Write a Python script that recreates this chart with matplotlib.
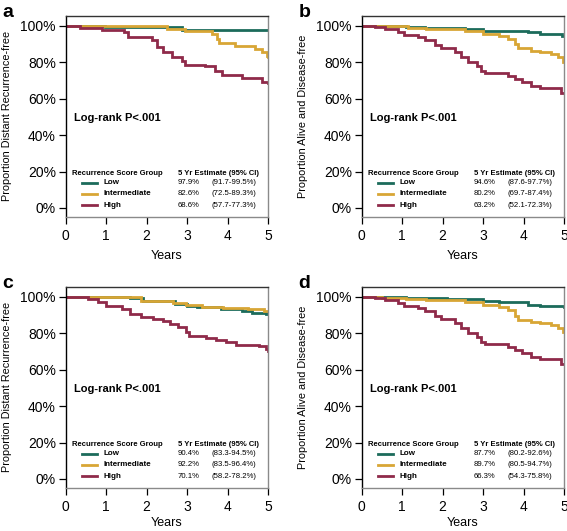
import matplotlib
matplotlib.use("Agg")
import matplotlib.pyplot as plt
from matplotlib.ticker import FuncFormatter

plt.rcParams["font.family"] = ["Liberation Sans", "DejaVu Sans"]

# Kaplan-Meier style step data (years, percent)
A_LOW_T = [0, 0.97, 2.88, 5]
A_LOW_S = [100, 99.3, 97.9, 97.9]
A_INT_T = [0, 1.5, 2.5, 2.96, 3.62, 3.73, 3.8, 4.18, 4.68, 4.85, 4.97, 5]
A_INT_S = [100, 99.6, 98.3, 96.9, 95.6, 92.8, 90.6, 88.8, 87.3, 85.5, 83.6, 82.6]
A_HIGH_T = [0, 0.35, 0.9, 1.43, 1.55, 2.13, 2.25, 2.4, 2.62, 2.88, 2.95, 3.44, 3.69, 3.86, 4.36, 4.85, 5]
A_HIGH_S = [100, 99, 97.4, 96.5, 93.8, 91.9, 88.5, 85.5, 82.7, 80.8, 78.6, 77.7, 75.3, 72.9, 71.1, 69.2, 68.6]

B_LOW_T = [0, 1.1, 1.56, 2.55, 3.0, 4.1, 4.4, 4.95, 5]
B_LOW_S = [100, 99.3, 99.0, 98.3, 97.2, 96.5, 95.6, 94.6, 94.6]
B_INT_T = [0, 0.5, 1.14, 1.6, 2.55, 3.0, 3.4, 3.62, 3.78, 3.86, 4.18, 4.4, 4.68, 4.85, 4.97, 5]
B_INT_S = [100, 99.6, 98.9, 98.3, 96.9, 95.6, 94.3, 92.8, 90.0, 87.7, 86.4, 85.5, 84.6, 82.7, 80.2, 80.2]
B_HIGH_T = [0, 0.33, 0.58, 0.9, 1.05, 1.4, 1.56, 1.8, 1.97, 2.3, 2.45, 2.62, 2.85, 2.95, 3.05,
            3.62, 3.78, 3.95, 4.18, 4.4, 4.93, 5]
B_HIGH_S = [100, 99.3, 98.3, 96.5, 94.7, 93.8, 91.9, 89.5, 87.7, 85.5, 82.7, 80.0, 78.1, 75.3, 74.0,
            72.6, 70.7, 68.9, 67.0, 65.6, 63.2, 63.2]

C_LOW_T = [0, 1.6, 1.9, 2.7, 3.0, 3.25, 3.85, 4.35, 4.6, 4.95, 5]
C_LOW_S = [100, 99.3, 97.8, 96.2, 95.0, 94.2, 93.3, 92.0, 91.2, 90.4, 90.4]
C_INT_T = [0, 1.87, 2.66, 2.97, 3.38, 3.9, 4.5, 4.9, 5]
C_INT_S = [100, 97.8, 96.6, 95.5, 94.5, 93.8, 93.3, 92.2, 92.2]
C_HIGH_T = [0, 0.55, 0.8, 1.0, 1.38, 1.59, 1.87, 2.17, 2.4, 2.57, 2.77, 2.97, 3.05, 3.46, 3.72,
            3.96, 4.2, 4.78, 4.95, 5]
C_HIGH_S = [100, 99, 96.9, 95.1, 93.2, 90.5, 88.7, 87.8, 86.8, 85.0, 83.2, 80.5, 78.3, 77.2, 76.3,
            74.9, 73.4, 72.7, 71.2, 70.1]

D_LOW_T = [0, 1.1, 2.1, 3.0, 3.4, 4.1, 4.4, 5]
D_LOW_S = [100, 99.3, 98.7, 97.5, 96.9, 95.6, 94.8, 94.3]
D_INT_T = [0, 0.5, 1.1, 1.6, 2.55, 3.0, 3.4, 3.62, 3.78, 3.86, 4.18, 4.4, 4.68, 4.85, 4.97, 5]
D_INT_S = [100, 99.3, 98.7, 98.0, 96.9, 95.6, 94.3, 92.8, 89.6, 87.5, 86.4, 85.5, 84.6, 82.7, 80.5, 80.5]
D_HIGH_T = [0, 0.33, 0.58, 0.9, 1.05, 1.4, 1.56, 1.8, 1.97, 2.3, 2.45, 2.62, 2.85, 2.95, 3.05,
            3.62, 3.78, 3.95, 4.18, 4.4, 4.93, 5]
D_HIGH_S = [100, 99.3, 98.3, 96.5, 94.7, 93.8, 91.9, 89.5, 87.7, 85.5, 82.7, 80.0, 78.1, 75.3, 74.0,
            72.6, 70.7, 68.9, 67.0, 65.8, 63.0, 63.0]

GROUPS = ["Low", "Intermediate", "High"]
COLORS = ["#1c6b5b", "#d8a635", "#8f2a4a"]

A_EST = [("97.9%", "(91.7-99.5%)"), ("82.6%", "(72.5-89.3%)"), ("68.6%", "(57.7-77.3%)")]
B_EST = [("94.6%", "(87.6-97.7%)"), ("80.2%", "(69.7-87.4%)"), ("63.2%", "(52.1-72.3%)")]
C_EST = [("90.4%", "(83.3-94.5%)"), ("92.2%", "(83.5-96.4%)"), ("70.1%", "(58.2-78.2%)")]
D_EST = [("87.7%", "(80.2-92.6%)"), ("89.7%", "(80.5-94.7%)"), ("66.3%", "(54.3-75.8%)")]

YLAB_DR = "Proportion Distant Recurrence-free"
YLAB_DF = "Proportion Alive and Disease-free"

panels = [
    ("a", YLAB_DR, [(A_LOW_T, A_LOW_S), (A_INT_T, A_INT_S), (A_HIGH_T, A_HIGH_S)], A_EST),
    ("b", YLAB_DF, [(B_LOW_T, B_LOW_S), (B_INT_T, B_INT_S), (B_HIGH_T, B_HIGH_S)], B_EST),
    ("c", YLAB_DR, [(C_LOW_T, C_LOW_S), (C_INT_T, C_INT_S), (C_HIGH_T, C_HIGH_S)], C_EST),
    ("d", YLAB_DF, [(D_LOW_T, D_LOW_S), (D_INT_T, D_INT_S), (D_HIGH_T, D_HIGH_S)], D_EST),
]

fig = plt.figure(figsize=(5.67, 5.31), dpi=100)
W, H = 567, 531
boxes = [(65.7, 15.7), (361.7, 15.7), (65.7, 286.7), (361.7, 286.7)]
aw, ah = 202.3, 201

for k, ((letter, ylab, curves, est), (x0, y0)) in enumerate(zip(panels, boxes)):
    ax = fig.add_axes([x0 / W, 1 - (y0 + ah) / H, aw / W, ah / H])
    for (t, s), c in zip(curves, COLORS):
        ax.step(t, s, where="post", color=c, lw=2.0, solid_joinstyle="miter")
    ax.set_xlim(0, 5)
    ax.set_ylim(-4.8, 105.5)
    ax.set_xticks(range(6))
    ax.set_yticks(range(0, 101, 20))
    ax.yaxis.set_major_formatter(FuncFormatter(lambda v, p: "%d%%" % v))
    ax.tick_params(axis="both", labelsize=10, length=5, width=0.9, color="black", pad=2)
    ax.tick_params(axis="x", pad=4)
    ax.spines["left"].set_color("black")
    ax.spines["top"].set_color("#333333")
    ax.spines["right"].set_color("#8a8a8a")
    ax.spines["bottom"].set_color("#8a8a8a")
    for sp in ax.spines.values():
        sp.set_linewidth(1.0)
    ax.set_xlabel("Years", fontsize=9)
    ax.xaxis.set_label_coords(0.5, -0.165 if k < 2 else -0.145)
    ax.set_ylabel(ylab, fontsize=7.8)
    ax.yaxis.set_label_coords(-0.265, 0.5)

    ax.text(0.041, 0.49, "Log-rank P<.001", transform=ax.transAxes, fontsize=8,
            fontweight="bold", va="center")
    ax.text(0.031, 0.217, "Recurrence Score Group", transform=ax.transAxes, fontsize=5.5,
            fontweight="bold", va="center")
    ax.text(0.555, 0.217, "5 Yr Estimate (95% CI)", transform=ax.transAxes, fontsize=5.5,
            fontweight="bold", va="center")
    for i, (g, c, (pct, ci)) in enumerate(zip(GROUPS, COLORS, est)):
        yy = 0.168 - i * 0.055
        ax.plot([0.08, 0.155], [yy, yy], transform=ax.transAxes, color=c, lw=2.0)
        ax.text(0.185, yy, g, transform=ax.transAxes, fontsize=5.8, fontweight="bold", va="center")
        ax.text(0.555, yy, pct, transform=ax.transAxes, fontsize=5.6, va="center")
        ax.text(0.723, yy, ci, transform=ax.transAxes, fontsize=5.6, va="center")

    fig.text((x0 - 63) / W, 1 - (y0 - 12) / H, letter, fontsize=14, fontweight="bold",
             va="top", ha="left")

fig.savefig("out.png", dpi=100)
